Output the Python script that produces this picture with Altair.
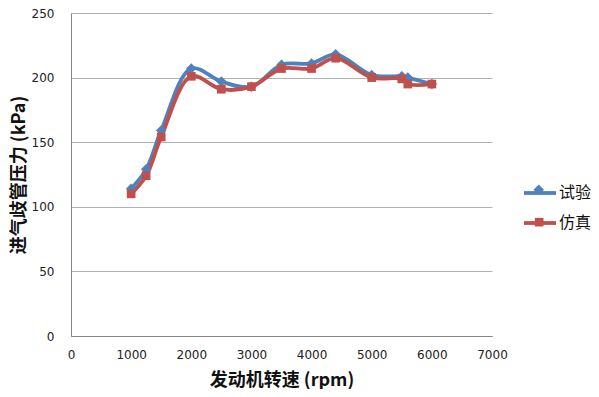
import altair as alt
import pandas as pd

rpm = [1000, 1250, 1500, 2000, 2500, 3000, 3500, 4000, 4400, 5000, 5500, 5600, 6000]
p_exp = [114, 129, 159, 207, 197, 193, 210, 211, 218, 202, 201, 200, 195]
p_sim = [110, 124, 154, 201, 191, 193, 207, 207, 215, 200, 199, 195, 195]
series = ["试验", "仿真"]
colors = ["#4F81BD", "#C0504D"]

rows = []
for i, r in enumerate(rpm):
    rows.append({"rpm": r, "p": p_exp[i], "s": series[0], "o": 0})
for i, r in enumerate(rpm):
    rows.append({"rpm": r, "p": p_sim[i], "s": series[1], "o": 1})
df = pd.DataFrame(rows)

LX, LY = 451, 162
LINE_SIZE = 1024
DIA_SIZE = 110
SQ_SIZE = 75
ROW1, ROW2 = 14, 46

x = alt.X("rpm:Q", scale=alt.Scale(domain=[0, 7000], nice=False),
          axis=alt.Axis(values=[0, 1000, 2000, 3000, 4000, 5000, 6000, 7000], grid=False,
                        format="d", labelFlush=False,
                        title="发动机转速 (rpm)", titleY=44, titleBaseline="middle",
                        labelPadding=13))
y = alt.Y("p:Q", scale=alt.Scale(domain=[0, 250], nice=False),
          axis=alt.Axis(values=[0, 50, 100, 150, 200, 250], grid=True, labelFlush=False,
                        title="进气歧管压力 (kPa)", titleX=-52, titleBaseline="middle",
                        labelPadding=17))

base = alt.Chart(df)
lines = base.mark_line(strokeWidth=3.8, interpolate="catmull-rom").encode(
    x=x, y=y, detail="s:N", order="o:Q",
    color=alt.Color("s:N", scale=alt.Scale(domain=series, range=colors), sort=series,
                    legend=alt.Legend(title=None, orient="none", legendX=LX, legendY=LY,
                                      padding=0, symbolType="stroke", symbolSize=LINE_SIZE,
                                      symbolStrokeWidth=3.8, labelFontSize=16,
                                      labelFont="Noto Sans CJK SC", labelColor="#111",
                                      rowPadding=4, labelOffset=1)))

d_half = DIA_SIZE ** 0.5 / 2
s_half = SQ_SIZE ** 0.5 / 2
pts_exp = base.transform_filter(alt.datum.s == "试验").mark_point(
    shape="diamond", filled=True, size=DIA_SIZE, opacity=1).encode(
    x=x, y=y,
    color=alt.Color("s:N", scale=alt.Scale(domain=[series[0]], range=[colors[0]]),
                    legend=alt.Legend(title=None, orient="none",
                                      legendX=LX + 16 - d_half, legendY=LY + ROW1 - d_half,
                                      padding=0, symbolType="diamond", symbolSize=DIA_SIZE,
                                      labelExpr="''", labelFontSize=1, labelOpacity=0,
                                      zindex=2)))
pts_sim = base.transform_filter(alt.datum.s == "仿真").mark_point(
    shape="square", filled=True, size=SQ_SIZE, opacity=1).encode(
    x=x, y=y,
    color=alt.Color("s:N", scale=alt.Scale(domain=[series[1]], range=[colors[1]]),
                    legend=alt.Legend(title=None, orient="none",
                                      legendX=LX + 16 - s_half, legendY=LY + ROW2 - s_half,
                                      padding=0, symbolType="square", symbolSize=SQ_SIZE,
                                      labelExpr="''", labelFontSize=1, labelOpacity=0,
                                      zindex=2)))

chart = alt.layer(lines, pts_exp, pts_sim).resolve_scale(
    color="independent").resolve_legend(color="independent").properties(
    width=421, height=323,
    autosize=alt.AutoSizeParams(type="none"),
    padding={"left": 63, "top": 5, "right": 99, "bottom": 53},
).configure_view(stroke=None).configure_axis(
    domainColor="#868686", gridColor="#b3b3b3", ticks=False,
    labelFont="DejaVu Sans", labelFontSize=12, labelColor="#222",
    titleFont="Noto Sans CJK SC", titleFontSize=18, titleFontWeight="bold", titleColor="#111",
)

chart.save("out.html", embed_options={"renderer": "svg", "actions": False})
